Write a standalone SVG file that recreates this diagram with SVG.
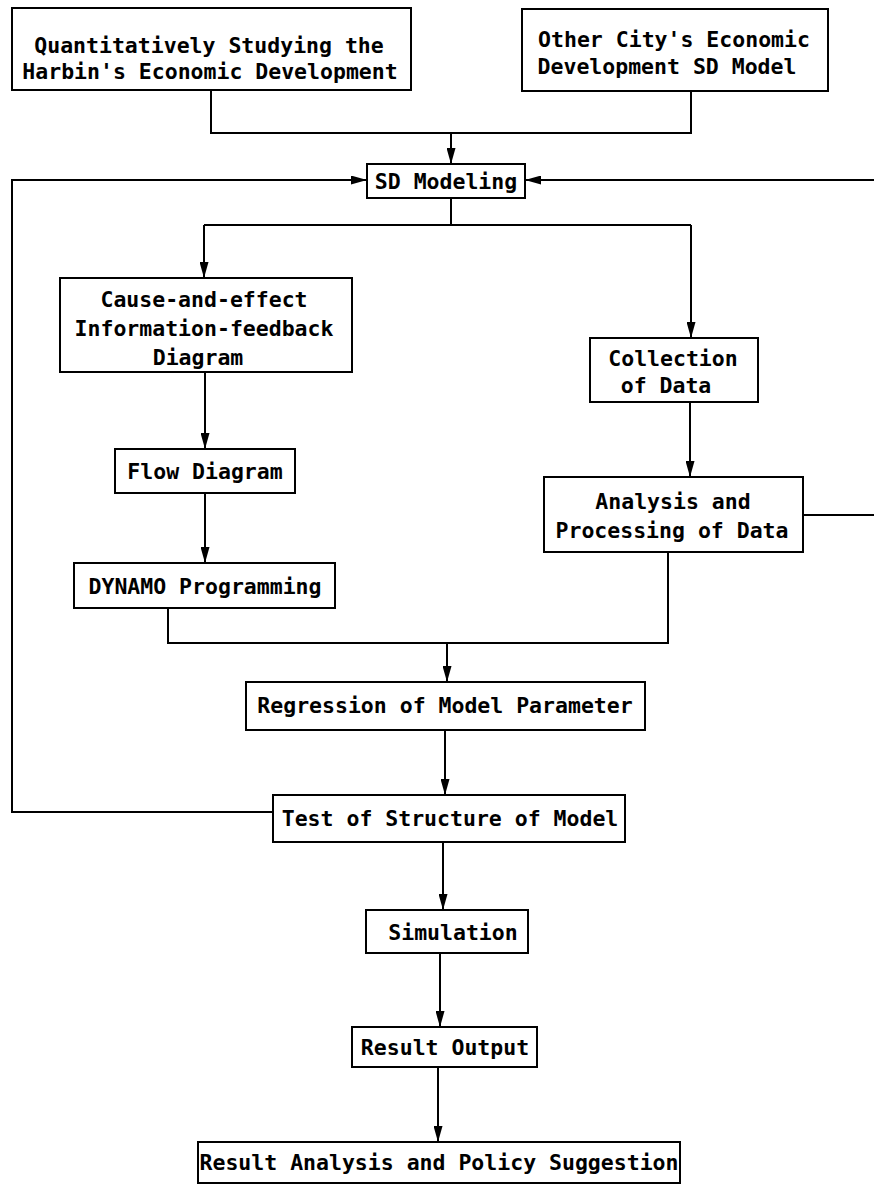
<svg xmlns="http://www.w3.org/2000/svg" width="874" height="1189" viewBox="0 0 874 1189">
<style>
.box{fill:#fff;stroke:#000;stroke-width:2}
.ln{fill:none;stroke:#000;stroke-width:2}
.t{font-family:"DejaVu Sans Mono","Liberation Mono",monospace;font-weight:bold;font-size:21.5px;fill:#000;text-anchor:middle}
</style>
<defs>
<marker id="ah" markerUnits="userSpaceOnUse" viewBox="0 0 16 9" refX="16" refY="4.5" markerWidth="16" markerHeight="9" orient="auto">
<path d="M0,0 L16,4.5 L0,9 z" fill="#000"/>
</marker>
</defs>
<rect width="874" height="1189" fill="#fff"/>
<g id="connectors">
<polyline class="ln" points="211,90 211,133 691,133 691,91"/>
<line class="ln" x1="451" y1="133" x2="451" y2="164" marker-end="url(#ah)"/>
<polyline class="ln" points="273,812 12,812 12,180 367,180" marker-end="url(#ah)"/>
<line class="ln" x1="874" y1="180" x2="525" y2="180" marker-end="url(#ah)"/>
<polyline class="ln" points="451,198 451,225"/>
<polyline class="ln" points="204,225 691,225"/>
<line class="ln" x1="204" y1="225" x2="204" y2="278" marker-end="url(#ah)"/>
<line class="ln" x1="691" y1="225" x2="691" y2="338" marker-end="url(#ah)"/>
<line class="ln" x1="205" y1="372" x2="205" y2="449" marker-end="url(#ah)"/>
<line class="ln" x1="205" y1="493" x2="205" y2="563" marker-end="url(#ah)"/>
<line class="ln" x1="690" y1="402" x2="690" y2="477" marker-end="url(#ah)"/>
<line class="ln" x1="803" y1="515" x2="874" y2="515"/>
<polyline class="ln" points="168,608 168,643 668,643 668,552"/>
<line class="ln" x1="447" y1="643" x2="447" y2="682" marker-end="url(#ah)"/>
<line class="ln" x1="445" y1="730" x2="445" y2="795" marker-end="url(#ah)"/>
<line class="ln" x1="443" y1="842" x2="443" y2="910" marker-end="url(#ah)"/>
<line class="ln" x1="440" y1="953" x2="440" y2="1027" marker-end="url(#ah)"/>
<line class="ln" x1="438" y1="1067" x2="438" y2="1142" marker-end="url(#ah)"/>
</g>
<g id="n-harbin">
<rect class="box" x="12" y="8" width="399" height="82"/>
<text class="t" x="209" y="53">Quantitatively Studying the</text>
<text class="t" x="210" y="79">Harbin's Economic Development</text>
</g>
<g id="n-othercity">
<rect class="box" x="522" y="9" width="306" height="82"/>
<text class="t" x="674" y="47">Other City's Economic</text>
<text class="t" x="667" y="74">Development SD Model</text>
</g>
<g id="n-sdmodeling">
<rect class="box" x="367" y="164" width="158" height="34"/>
<text class="t" x="446" y="189">SD Modeling</text>
</g>
<g id="n-cause">
<rect class="box" x="60" y="278" width="292" height="94"/>
<text class="t" x="204" y="307">Cause-and-effect</text>
<text class="t" x="204" y="336">Information-feedback</text>
<text class="t" x="198" y="365">Diagram</text>
</g>
<g id="n-collection">
<rect class="box" x="590" y="338" width="168" height="64"/>
<text class="t" x="673" y="366">Collection</text>
<text class="t" x="666" y="393">of Data</text>
</g>
<g id="n-flow">
<rect class="box" x="115" y="449" width="180" height="44"/>
<text class="t" x="205" y="479">Flow Diagram</text>
</g>
<g id="n-dynamo">
<rect class="box" x="74" y="563" width="261" height="45"/>
<text class="t" x="205" y="594">DYNAMO Programming</text>
</g>
<g id="n-analysis">
<rect class="box" x="544" y="477" width="259" height="75"/>
<text class="t" x="673" y="509">Analysis and</text>
<text class="t" x="672" y="538">Processing of Data</text>
</g>
<g id="n-regression">
<rect class="box" x="246" y="682" width="399" height="48"/>
<text class="t" x="445" y="713">Regression of Model Parameter</text>
</g>
<g id="n-test">
<rect class="box" x="273" y="795" width="352" height="47"/>
<text class="t" x="450" y="826">Test of Structure of Model</text>
</g>
<g id="n-simulation">
<rect class="box" x="366" y="910" width="162" height="43"/>
<text class="t" x="453" y="940">Simulation</text>
</g>
<g id="n-output">
<rect class="box" x="352" y="1027" width="185" height="40"/>
<text class="t" x="445" y="1055">Result Output</text>
</g>
<g id="n-policy">
<rect class="box" x="198" y="1142" width="482" height="41"/>
<text class="t" x="439" y="1170">Result Analysis and Policy Suggestion</text>
</g>
</svg>
